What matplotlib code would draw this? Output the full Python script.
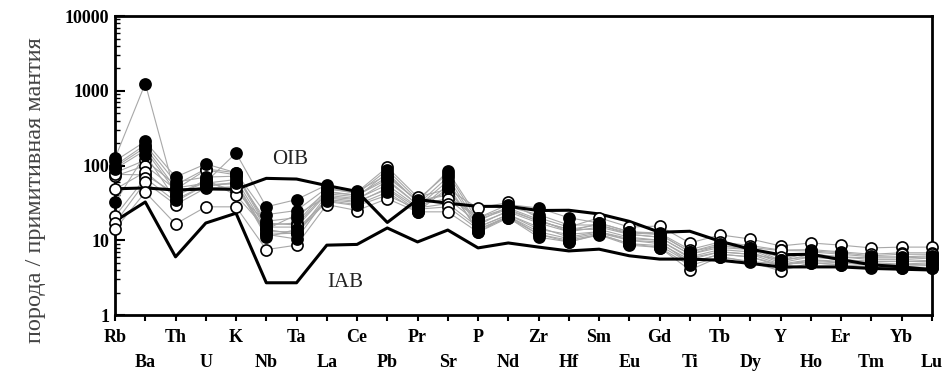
import matplotlib
matplotlib.use("Agg")
import matplotlib.pyplot as plt
from matplotlib.ticker import LogLocator, NullFormatter, FixedLocator

elements = ["Rb", "Ba", "Th", "U", "K", "Nb", "Ta", "La", "Ce", "Pb", "Pr", "Sr", "P", "Nd",
            "Zr", "Hf", "Sm", "Eu", "Gd", "Ti", "Tb", "Dy", "Y", "Ho", "Er", "Tm", "Yb", "Lu"]

# reference curves (primitive mantle normalised)
oib = [48.8, 50.1, 47, 48.6, 48, 67.3, 65.9, 53.9, 45, 17.3, 35.1, 31.3, 28.4, 28.4,
       25, 25.2, 22.5, 17.9, 12.8, 13.2, 9.7, 7.6, 6.4, 6.5, 5.5, 4.7, 4.4, 4.05]
iab = [18, 32.5, 6.0, 17, 23, 2.7, 2.7, 8.6, 8.8, 14.6, 9.5, 13.7, 7.9, 9.2,
       8.1, 7.2, 7.6, 6.2, 5.6, 5.6, 5.4, 4.9, 4.4, 4.4, 4.4, 4.2, 4.1, 4.0]

# samples, filled symbols
filled = [
    [125, 1250, 40, 60, 147, 28, 35, 55, 45, 75, 33, 84, 20, 30, 27, 20, 17, 13, 12, 7, 9, 8, 5.4, 7, 6.5, 6, 6, 6.2],
    [115, 210, 70, 105, 80, 22, 25, 50, 42, 87, 35, 78, 18, 28, 22, 16, 16, 12, 11, 6.5, 8.5, 7.5, 5.2, 6.5, 6, 5.5, 5.5, 5.8],
    [100, 190, 60, 70, 72, 18, 20, 45, 40, 65, 30, 70, 16, 25, 18, 14, 14, 11, 10, 6, 7.5, 7, 5, 6, 5.5, 5.2, 5.2, 5.4],
    [95, 175, 50, 58, 65, 14, 12, 40, 36, 55, 28, 62, 15, 22, 14, 12, 13, 10, 9, 5.5, 7, 6.5, 4.8, 5.5, 5.2, 5, 4.8, 5],
    [90, 160, 45, 52, 60, 12, 10.4, 37, 33, 48, 25, 55, 13, 21, 12, 10, 12, 9, 8.5, 5, 6.5, 6, 4.7, 5.2, 5, 4.6, 4.5, 4.6],
    [32, 140, 35, 55, 58, 11, 14, 34, 30, 44, 24, 50, 14, 20, 11, 9.5, 11.8, 8.6, 8, 4.6, 6, 5.2, 4.8, 5, 4.7, 4.4, 4.3, 4.3],
]

# samples, open symbols
hollow = [
    [80, 118, 55, 90, 80, 16, 17, 48, 44, 95, 38, 48, 27, 32, 20, 15, 20, 15, 15.5, 9.2, 11.8, 10.4, 8.4, 9.2, 8.6, 7.9, 8.1, 8.1],
    [72, 100, 48, 87, 75, 15, 15, 42, 38, 80, 32, 43, 20, 27, 19, 13, 17, 13, 12.5, 7.5, 9.5, 8.5, 7.4, 7.5, 7, 6.5, 6.8, 6.8],
    [76, 75, 42, 62, 45, 17, 16, 44, 40, 70, 34, 40, 19, 26, 18, 14, 16, 12.5, 12, 7, 8.5, 8, 7.3, 7.2, 6.8, 6.2, 6.5, 6.5],
    [48, 82, 38, 65, 40, 14, 22, 38, 35, 62, 30, 36, 17, 24, 17, 13, 15, 12, 11, 6.5, 8, 7.5, 6, 6.5, 6, 5.8, 5.8, 6],
    [21, 68, 33, 55, 57, 13, 13, 35, 32, 50, 27, 31, 15, 22, 15, 11, 13, 10.5, 10, 5.8, 7, 6.5, 5.5, 6, 5.5, 5.2, 5.2, 5.2],
    [17, 60, 30, 50, 52, 12, 12.5, 33, 29, 40, 26, 28, 14, 21, 13, 10.5, 12.5, 10, 9.5, 5, 6.5, 6, 4.5, 5.5, 5, 4.8, 4.7, 4.8],
    [14, 44, 16.5, 28, 28, 7.5, 8.6, 30, 25, 36, 24, 24, 12.8, 20, 12, 9.5, 12, 9, 8, 4.0, 6, 5.1, 3.9, 5, 4.7, 4.25, 4.25, 4.25],
]

x = list(range(len(elements)))
serif = "Liberation Serif"

fig = plt.figure(figsize=(9.46, 3.81), dpi=100)
ax = fig.add_axes([0.1216, 0.1732, 0.8634, 0.7848])

# grey sample lines first
for s in filled + hollow:
    ax.plot(x, s, color="#a8a8a8", lw=0.8, zorder=2, clip_on=False)

ax.plot(x, oib, color="black", lw=2.2, zorder=3)
ax.plot(x, iab, color="black", lw=2.2, zorder=3)

for s in hollow:
    ax.plot(x, s, ls="none", marker="o", ms=8, mfc="white", mec="black", mew=1.2,
            zorder=4, clip_on=False)
for s in filled:
    ax.plot(x, s, ls="none", marker="o", ms=8, mfc="black", mec="black", mew=1.2,
            zorder=5, clip_on=False)

ax.text(5.8, 122, "OIB", fontsize=15, family=serif, ha="center", va="center", color="#222222")
ax.text(7.6, 2.75, "IAB", fontsize=15, family=serif, ha="center", va="center", color="#222222")

ax.set_yscale("log")
ax.set_ylim(1, 10000)
ax.set_xlim(0, 27)

ax.yaxis.set_minor_locator(LogLocator(base=10, subs=range(2, 10), numticks=10))
ax.yaxis.set_minor_formatter(NullFormatter())
ax.set_yticks([1, 10, 100, 1000, 10000])
ax.set_yticklabels(["1", "10", "100", "1000", "10000"], fontsize=13,
                   family=serif, fontweight="bold")
ax.tick_params(axis="y", which="major", direction="in", length=7, width=1.5, pad=4)
ax.tick_params(axis="y", which="minor", direction="in", length=3.5, width=1)

# alternating element labels: even ones upper row, odd ones lower row
ax.xaxis.set_major_locator(FixedLocator(x[0::2]))
ax.xaxis.set_minor_locator(FixedLocator(x[1::2]))
ax.set_xticklabels(elements[0::2], fontsize=13, family=serif, fontweight="bold")
ax.set_xticklabels(elements[1::2], minor=True, fontsize=13, family=serif, fontweight="bold")
ax.tick_params(axis="x", which="major", direction="out", length=4, width=1.5, pad=6)
ax.tick_params(axis="x", which="minor", direction="out", length=4, width=1.5, pad=24)

for sp in ax.spines.values():
    sp.set_linewidth(2)

fig.text(0.037, 0.5, "порода / примитивная мантия", rotation=90, fontsize=17.5,
         family=serif, color="#444444", ha="center", va="center")

fig.savefig("out.png", dpi=100)
